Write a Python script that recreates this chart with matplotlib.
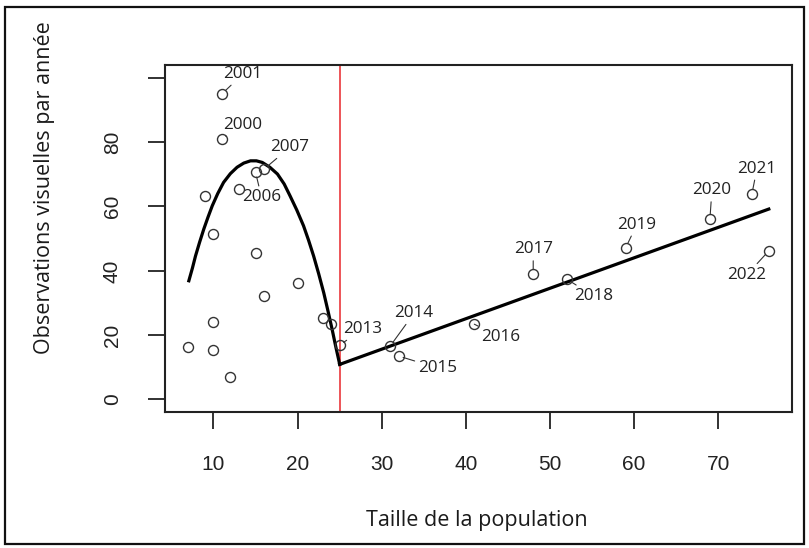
import matplotlib
matplotlib.use("Agg")
import matplotlib.pyplot as plt
from matplotlib.patches import Rectangle

# points without a year label
other_x = [7, 9, 10, 10, 10, 12, 13, 15, 16, 20, 23, 24]
other_y = [16.4, 63.3, 51.4, 24.1, 15.4, 7.1, 65.4, 45.6, 32.2, 36.3, 25.2, 23.4]

# labelled years
years = ["2000", "2001", "2006", "2007", "2013", "2014", "2015",
         "2016", "2017", "2018", "2019", "2020", "2021", "2022"]
year_x = [11, 11, 15, 16, 25, 31, 32, 41, 48, 52, 59, 69, 74, 76]
year_y = [81, 95, 70.6, 71.6, 16.9, 16.6, 13.5, 23.4, 38.9, 37.4, 47.2, 56, 64, 46.2]

# fitted curves
fit1_x = [7.07, 7.5, 7.86, 8.35, 8.85, 9.35, 9.85, 10.5, 11.2, 12.0, 12.8, 13.6, 14.4,
          15.1, 15.8, 16.7, 17.6, 18.4, 19.1, 19.9, 20.7, 21.3, 21.9, 22.5, 23.1,
          23.6, 24.1, 24.5, 25]
fit1_y = [36.9, 40.9, 44.6, 48.9, 53.0, 56.7, 60.2, 64.0, 67.5, 70.2, 72.2, 73.5, 74.2,
          74.2, 73.7, 72.2, 70.1, 67.0, 63.3, 58.9, 54.0, 49.5, 44.6, 39.1, 33.2,
          27.6, 21.8, 16.8, 10.9]
fit2_x = [25, 76]
fit2_y = [10.9, 59.2]
breakpoint_x = 25

# label offsets in pixels (dx, dy up)
label_off = [(21, 14), (21, 20), (6, -25), (26, 22), (23, 16), (24, 33), (39, -12),
             (26, -13), (0, 25), (27, -17), (11, 23), (2, 29), (5, 25), (-22, -24)]

fig = plt.figure(figsize=(8.09, 5.48), dpi=100)
ax = fig.add_axes([0.204, 0.2476, 0.775, 0.6338])

ax.plot(fit1_x, fit1_y, color="black", lw=2.3, zorder=3, solid_joinstyle="round")
ax.plot(fit2_x, fit2_y, color="black", lw=2.3, zorder=3)
ax.axvline(breakpoint_x, color="#e8262a", lw=1.1, zorder=2)

mk = dict(marker="o", ms=7.2, mfc="none", mec="#333333", mew=1.0, ls="none", zorder=4)
ax.plot(other_x, other_y, **mk)
ax.plot(year_x, year_y, **mk)

for lab, x, y, (dx, dy) in zip(years, year_x, year_y, label_off):
    ax.annotate(lab, (x, y), xytext=(dx, dy), textcoords="offset pixels",
                ha="center", va="center", fontsize=12.3, family="Open Sans",
                color="#222222",
                arrowprops=dict(arrowstyle="-", color="#333333", lw=0.8,
                                shrinkA=0.5, shrinkB=3.4))

ax.set_xlim(4.24, 78.76)
ax.set_ylim(-4, 104)
ax.set_xticks([10, 20, 30, 40, 50, 60, 70])
ax.set_yticks([0, 20, 40, 60, 80, 100])
ax.set_yticklabels(["0", "20", "40", "60", "80", ""], rotation=90, va="center")
for s in ax.spines.values():
    s.set_linewidth(1.5)
    s.set_color("#222222")
ax.tick_params(length=12, width=1.3, color="#222222", labelsize=15)
ax.tick_params(axis="x", pad=19)
ax.tick_params(axis="y", pad=19)
for t in ax.get_xticklabels() + ax.get_yticklabels():
    t.set_family("Liberation Sans")
    t.set_color("#222222")

fig.text(0.59, 0.05, "Taille de la population", ha="center", va="center",
         fontsize=15.5, family="Open Sans", color="#1a1a1a")
fig.text(0.055, 0.657, "Observations visuelles par année", ha="center", va="center",
         rotation=90, fontsize=15.5, family="Open Sans", color="#1a1a1a")

fig.patches.append(Rectangle((0.006, 0.008), 0.988, 0.98, transform=fig.transFigure,
                             fill=False, lw=1.6, ec="#111111"))

fig.savefig("out.png", dpi=100)
